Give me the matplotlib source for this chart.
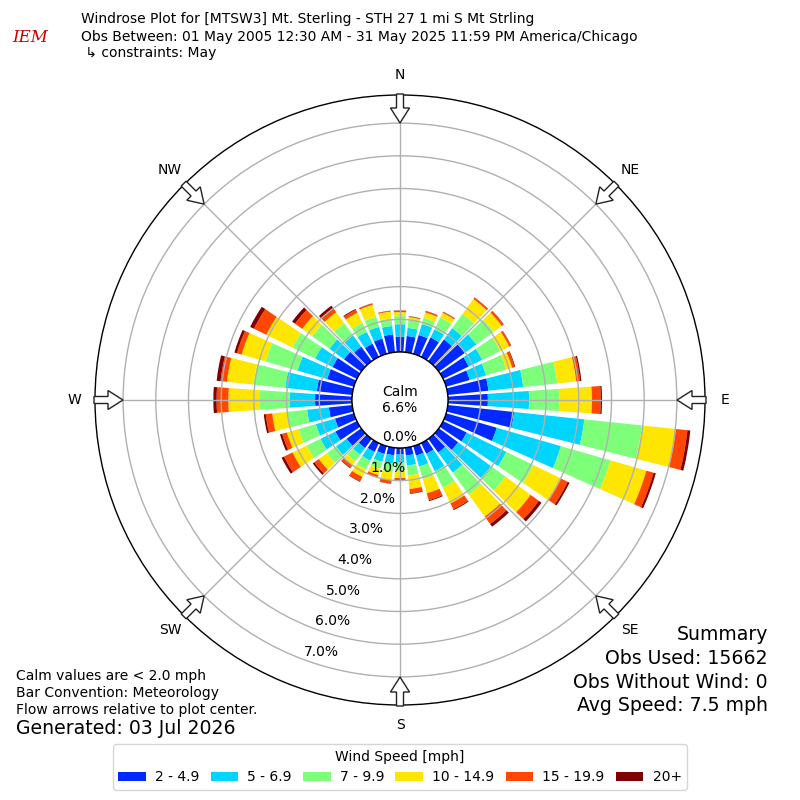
import numpy as np
import matplotlib
matplotlib.use("Agg")
import matplotlib.pyplot as plt
from matplotlib.patches import Circle, FancyArrow, Patch

# wind direction bins (deg, meteorological) and frequency (%) per speed bin
directions = np.arange(0, 360, 10)
speed_labels = ["2 - 4.9", "5 - 6.9", "7 - 9.9", "10 - 14.9", "15 - 19.9", "20+"]

spd_2_5 = [0.47, 0.50, 0.60, 0.66, 0.82, 0.98, 0.87, 0.75, 1.25, 1.22,
           2.04, 1.61, 0.80, 0.73, 0.52, 0.36, 0.30, 0.24, 0.20, 0.23,
           0.25, 0.30, 0.35, 0.55, 0.73, 0.60, 0.72, 1.13, 1.09, 0.85,
           0.83, 0.65, 0.55, 0.45, 0.49, 0.55]
spd_5_7 = [0.38, 0.25, 0.35, 0.28, 0.43, 0.44, 0.46, 0.52, 1.07, 1.26,
           2.16, 2.04, 1.35, 1.24, 0.76, 0.60, 0.35, 0.31, 0.25, 0.25,
           0.25, 0.30, 0.25, 0.40, 0.51, 0.61, 0.67, 0.77, 0.97, 0.94,
           0.59, 0.55, 0.42, 0.40, 0.37, 0.26]
spd_7_10 = [0.25, 0.25, 0.20, 0.40, 0.54, 0.65, 0.61, 0.64, 1.05, 0.92,
            1.77, 1.58, 0.92, 0.55, 0.83, 0.56, 0.40, 0.31, 0.25, 0.27,
            0.22, 0.30, 0.25, 0.35, 0.47, 0.55, 0.61, 0.94, 0.97, 1.02,
            0.77, 0.65, 0.46, 0.31, 0.32, 0.23]
spd_10_15 = [0.12, 0.08, 0.17, 0.16, 0.56, 0.31, 0.31, 0.19, 0.58, 1.00,
             1.04, 1.14, 0.94, 0.95, 0.83, 0.53, 0.45, 0.41, 0.22, 0.25,
             0.20, 0.25, 0.15, 0.30, 0.48, 0.37, 0.46, 0.94, 0.82, 0.76,
             0.89, 0.38, 0.42, 0.34, 0.38, 0.21]
spd_15_20 = [0.04, 0.02, 0.04, 0.03, 0.05, 0.07, 0.06, 0.08, 0.12, 0.27,
             0.36, 0.23, 0.23, 0.31, 0.28, 0.20, 0.22, 0.13, 0.08, 0.10,
             0.08, 0.15, 0.10, 0.17, 0.29, 0.15, 0.20, 0.36, 0.20, 0.15,
             0.42, 0.27, 0.15, 0.10, 0.04, 0.02]
spd_20_up = [0.01, 0.01, 0.01, 0.01, 0.01, 0.01, 0.01, 0.02, 0.04, 0.04,
             0.09, 0.07, 0.06, 0.10, 0.10, 0.03, 0.03, 0.02, 0.01, 0.01,
             0.01, 0.02, 0.02, 0.06, 0.08, 0.07, 0.06, 0.10, 0.12, 0.08,
             0.13, 0.11, 0.10, 0.03, 0.01, 0.01]
speed_bins = [spd_2_5, spd_5_7, spd_7_10, spd_10_15, spd_15_20, spd_20_up]

calm_pct = 6.6
rings = [1, 2, 3, 4, 5, 6, 7]
compass = ["N", "NE", "E", "SE", "S", "SW", "W", "NW"]
compass_deg = [0, 45, 90, 135, 180, 225, 270, 315]

colors = plt.cm.jet(np.linspace(0, 1, 7)[1:])

fig = plt.figure(figsize=(8, 8), dpi=100)
ax = fig.add_axes([95 / 800, 95 / 800, 610 / 800, 610 / 800], projection="polar")
ax.set_theta_zero_location("N")
ax.set_theta_direction(-1)

theta = np.radians(directions)
width = np.radians(8)
base = np.zeros(len(directions))
for vals, color, label in zip(speed_bins, colors, speed_labels):
    vals = np.array(vals)
    ax.bar(theta, vals, width=width, bottom=base, color=color, edgecolor="none",
           linewidth=0, label=label)
    base = base + vals

ax.set_rorigin(-1.468)
ax.set_ylim(0, 7.86)
ax.set_yticks(rings)
ax.set_yticklabels([])
ax.set_xticks(np.radians(compass_deg))
ax.set_xticklabels([])
ax.grid(True, color="#b0b0b0", linewidth=1, linestyle="-")
ax.spines["polar"].set_color("black")
ax.spines["polar"].set_linewidth(1)
if "inner" in ax.spines:
    ax.spines["inner"].set_visible(False)

# calm circle in the middle
calm_r = 48 / 610
ax.add_patch(Circle((0.5, 0.5), calm_r, transform=ax.transAxes, facecolor="white",
                    edgecolor="black", linewidth=1, zorder=5, clip_on=False))
ax.text(0.5, 0.5, f"Calm\n{calm_pct:.1f}%", transform=ax.transAxes, ha="center",
        va="center", fontsize=10, zorder=6)

# radial labels
for v in [0] + rings:
    ax.annotate(f"{v:.1f}%", xy=(np.radians(200), v), xytext=(16, 8),
                textcoords="offset pixels", ha="center", va="center",
                fontsize=10, zorder=7)

# compass labels and flow arrows
for name, deg in zip(compass, compass_deg):
    ux, uy = np.sin(np.radians(deg)), np.cos(np.radians(deg))
    ax.text(0.5 + 0.533 * ux, 0.5 + 0.533 * uy, name, transform=ax.transAxes,
            ha="center", va="center", fontsize=10)
    r0 = 306 / 610
    L = 29 / 610
    ax.add_patch(FancyArrow(0.5 + r0 * ux, 0.5 + r0 * uy, -L * ux, -L * uy,
                            width=7 / 610, head_width=19 / 610, head_length=15 / 610,
                            length_includes_head=True, transform=ax.transAxes,
                            facecolor="white", edgecolor="#222222", linewidth=1,
                            zorder=8, clip_on=False))

# header
fig.text(30 / 800, 1 - 38 / 800, "IEM", color="#cc0000", fontsize=12,
         family="serif", style="italic", ha="center", va="center")
fig.text(81 / 800, 1 - 19 / 800,
         "Windrose Plot for [MTSW3] Mt. Sterling - STH 27 1 mi S Mt Strling",
         fontsize=10, va="center")
fig.text(81 / 800, 1 - 37 / 800,
         "Obs Between: 01 May 2005 12:30 AM - 31 May 2025 11:59 PM America/Chicago",
         fontsize=10, va="center")
fig.text(81 / 800, 1 - 53 / 800, " \u21b3 constraints: May", fontsize=10, va="center")

# footer notes
fig.text(16 / 800, 1 - 676 / 800, "Calm values are < 2.0 mph", fontsize=10, va="center")
fig.text(16 / 800, 1 - 693 / 800, "Bar Convention: Meteorology", fontsize=10, va="center")
fig.text(16 / 800, 1 - 710 / 800, "Flow arrows relative to plot center.", fontsize=10,
         va="center")
fig.text(16 / 800, 1 - 729 / 800, "Generated: 03 Jul 2026", fontsize=13.6, va="center")

summary = ["Summary", "Obs Used: 15662", "Obs Without Wind: 0", "Avg Speed: 7.5 mph"]
for i, line in enumerate(summary):
    fig.text(768 / 800, 1 - (635 + 23.5 * i) / 800, line, fontsize=13.6, ha="right",
             va="center")

handles = [Patch(facecolor=c, label=l) for c, l in zip(colors, speed_labels)]
fig.legend(handles=handles, ncol=6, loc="lower center",
           bbox_to_anchor=(0.5, 10 / 800), borderaxespad=0, fontsize=10,
           title="Wind Speed [mph]", title_fontsize=10, handlelength=2.0,
           handleheight=0.7, handletextpad=0.65, columnspacing=0.8)

fig.savefig("out.png", dpi=100)
